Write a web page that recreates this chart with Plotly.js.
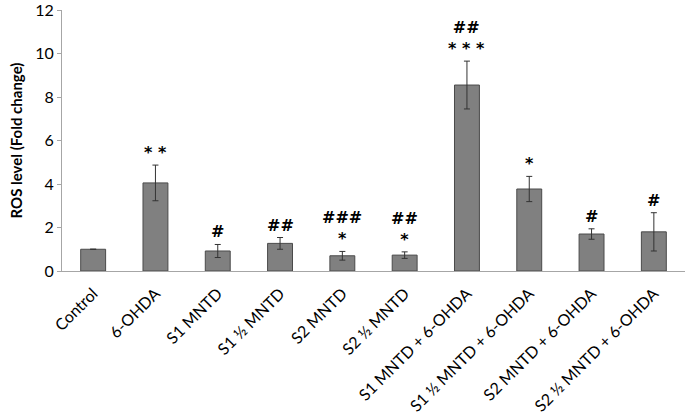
<!DOCTYPE html>
<html>
<head>
<meta charset="utf-8">
<script src="https://cdn.plot.ly/plotly-3.0.1.min.js"></script>
<style>
  html, body { margin: 0; padding: 0; background: #fff; }
  #plot { width: 685px; height: 414px; }
</style>
</head>
<body>
<div id="plot"></div>
<script>
const groups = [
  'Control', '6-OHDA', 'S1 MNTD', 'S1 ½ MNTD', 'S2 MNTD', 'S2 ½ MNTD',
  'S1 MNTD + 6-OHDA', 'S1 ½ MNTD + 6-OHDA', 'S2 MNTD + 6-OHDA', 'S2 ½ MNTD + 6-OHDA',
]
const rosLevel = [1.0, 4.05, 0.92, 1.27, 0.7, 0.73, 8.55, 3.77, 1.7, 1.8]
const rosError = [0, 0.82, 0.3, 0.27, 0.2, 0.15, 1.1, 0.58, 0.24, 0.88]
const marks = ['', '* *', '#', '##', '###<br>*', '##<br>*', '##<br>* * *', '*', '#', '#']

const bars = {
  x: groups,
  y: rosLevel,
  type: 'bar',
  width: 0.4,
  marker: {
    color: '#808080',
    line: {color: '#4a4a4a', width: 1},
  },
  error_y: {
    type: 'data',
    array: rosError,
    visible: true,
    color: '#333',
    thickness: 1,
    width: 3,
  },
  hoverinfo: 'none',
}

const annotations = groups
  .map((g, i) => ({
    x: g,
    y: rosLevel[i] + rosError[i],
    text: '<b>' + marks[i] + '</b>',
    showarrow: false,
    yanchor: 'bottom',
    yshift: 1,
    font: {family: 'DejaVu Sans, sans-serif', size: 16, color: '#000'},
  }))
  .filter((a, i) => marks[i])

const layout = {
  width: 685,
  height: 414,
  margin: {l: 62, r: 0, t: 10, b: 143},
  paper_bgcolor: '#fff',
  plot_bgcolor: '#fff',
  showlegend: false,
  font: {family: 'Lato, sans-serif', color: '#000'},
  yaxis: {
    title: {
      text: '<b>ROS level (Fold change)</b>',
      font: {size: 15},
      standoff: 8,
    },
    range: [0, 12],
    dtick: 2,
    showgrid: false,
    zeroline: false,
    showline: true,
    linecolor: '#a6a6a6',
    ticks: 'outside',
    ticklen: 4,
    tickcolor: '#a6a6a6',
    tickfont: {size: 16},
    ticklabeloverflow: 'allow',
  },
  xaxis: {
    showgrid: false,
    showline: true,
    linecolor: '#a6a6a6',
    ticks: '',
    tickangle: -45,
    ticklabelstandoff: 6,
    tickfont: {size: 16},
  },
  annotations,
}

Plotly.newPlot('plot', [bars], layout, {displayModeBar: false, staticPlot: true})
</script>
</body>
</html>
